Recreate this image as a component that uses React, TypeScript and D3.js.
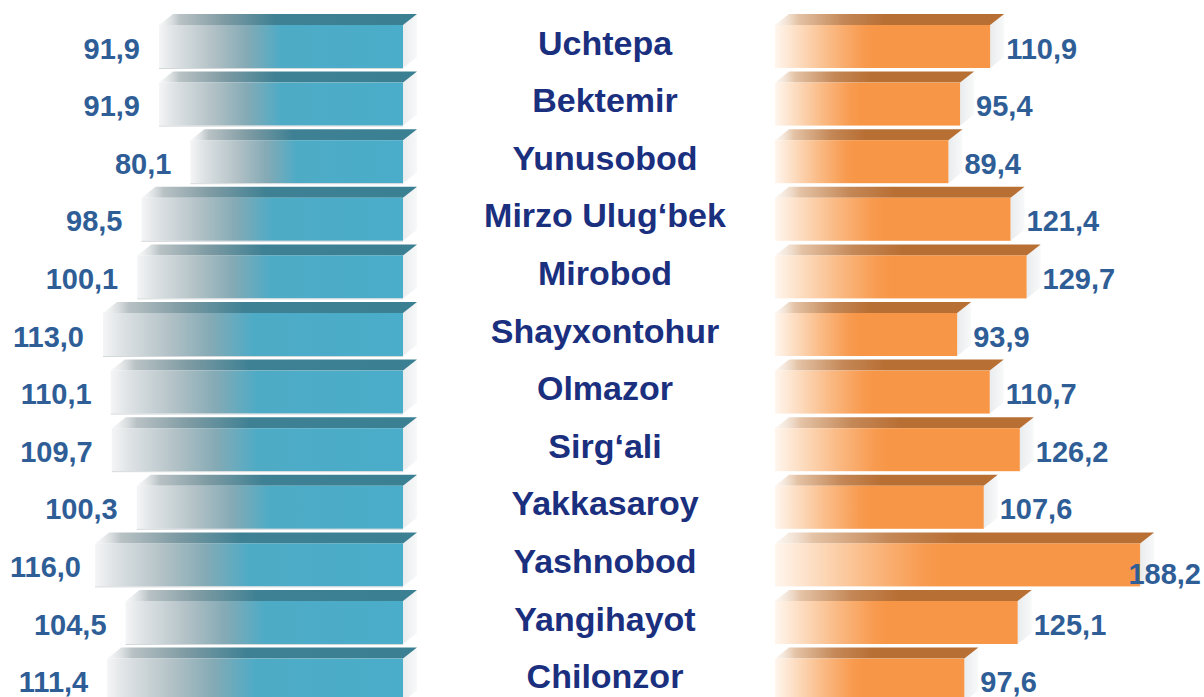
import React, { useEffect, useRef } from "react";
import * as d3 from "d3";

const districts = [
  "Uchtepa", "Bektemir", "Yunusobod", "Mirzo Ulug‘bek", "Mirobod", "Shayxontohur",
  "Olmazor", "Sirg‘ali", "Yakkasaroy", "Yashnobod", "Yangihayot", "Chilonzor",
];
const leftValues = [91.9, 91.9, 80.1, 98.5, 100.1, 113.0, 110.1, 109.7, 100.3, 116.0, 104.5, 111.4];
const rightValues = [110.9, 95.4, 89.4, 121.4, 129.7, 93.9, 110.7, 126.2, 107.6, 188.2, 125.1, 97.6];

const W = 1204;
const H = 697;
const FONT = "'Liberation Sans', Arial, Helvetica, sans-serif";
const fmt = (v: number) => v.toFixed(1).replace(".", ",");

export default function App() {
  const ref = useRef<SVGSVGElement | null>(null);

  useEffect(() => {
    const svg = d3.select(ref.current);
    svg.selectAll("*").remove();

    const defs = svg.append("defs");
    const lin = (id: string, stops: [number, string, number?][]) => {
      const g = defs.append("linearGradient").attr("id", id).attr("x1", 0).attr("x2", 1).attr("y1", 0).attr("y2", 0);
      stops.forEach(([o, c, op]) => g.append("stop").attr("offset", o).attr("stop-color", c).attr("stop-opacity", op ?? 1));
    };
    lin("blueFront", [[0, "#f4f5f6"], [0.06, "#dfe3e5"], [0.22, "#b2c1c6"], [0.36, "#84aab5"], [0.5, "#4eabc6"], [1, "#4aadc9"]]);
    lin("blueTop", [[0, "#e6e8e9", 0.3], [0.08, "#b9c2c5"], [0.25, "#7f9ba3"], [0.45, "#3f8194"], [1, "#3a7f92"]]);
    lin("orangeFront", [[0, "#fff6ee"], [0.08, "#fde3cc"], [0.25, "#fabb86"], [0.4, "#f89c52"], [0.46, "#f79646"], [1, "#f79646"]]);
    lin("orangeTop", [[0, "#f3e4d6", 0.3], [0.1, "#e4c3a6"], [0.3, "#c48756"], [0.48, "#b86f34"], [1, "#b86f34"]]);
    lin("side", [[0, "#e9ecee"], [1, "#f8f9f9"]]);

    const y = d3.scaleBand<string>()
      .domain(districts)
      .range([12.2, 12.2 + 57.6 * 12])
      .paddingInner(0.0625)
      .paddingOuter(0.03125);
    const depthX = 14;
    const depthY = 11;

    const xL = d3.scaleLinear().domain([0, 150]).range([403, 403 - 150 * 2.655]);
    const xR = d3.scaleLinear().domain([0, 200]).range([775, 775 + 200 * 1.94]);

    const gL = svg.append("g");
    const gR = svg.append("g");
    const gT = svg.append("g");

    districts.forEach((d, i) => {
      const bandTop = y(d)!;
      const fy = bandTop + depthY;
      const fh = y.bandwidth() - depthY;
      const cy = fy + fh / 2;

      // Left bar
      const x0 = xL(leftValues[i]);
      const x1 = xL(0);
      gL.append("polygon")
        .attr("points", [[x1, fy], [x1 + depthX, fy - depthY], [x1 + depthX, fy + fh - depthY], [x1, fy + fh]].map(p => p.join(",")).join(" "))
        .attr("fill", "url(#side)");
      gL.append("polygon")
        .attr("points", [[x0, fy], [x0 + depthX, fy - depthY], [x1 + depthX, fy - depthY], [x1, fy]].map(p => p.join(",")).join(" "))
        .attr("fill", "url(#blueTop)");
      gL.append("rect").attr("x", x0).attr("y", fy).attr("width", x1 - x0).attr("height", fh).attr("fill", "url(#blueFront)");
      gL.append("line").attr("x1", x0).attr("x2", x1).attr("y1", fy + fh + 0.5).attr("y2", fy + fh + 0.5)
        .attr("stroke", "#d3d8da").attr("stroke-width", 1);

      const tl = gL.append("text")
        .attr("x", x0 - 19).attr("y", cy + 12)
        .attr("text-anchor", "end")
        .attr("font-family", FONT).attr("font-weight", "bold").attr("font-size", 29)
        .attr("fill", "#2f5e97")
        .text(fmt(leftValues[i]));
      const wl = (tl.node() as SVGTextElement).getComputedTextLength();
      if (x0 - 19 - wl < 10) tl.attr("x", 10 + wl);

      // Right bar
      const r0 = xR(0);
      const r1 = xR(rightValues[i]);
      gR.append("polygon")
        .attr("points", [[r1, fy], [r1 + depthX, fy - depthY], [r1 + depthX, fy + fh - depthY], [r1, fy + fh]].map(p => p.join(",")).join(" "))
        .attr("fill", "url(#side)");
      gR.append("polygon")
        .attr("points", [[r0, fy], [r0 + depthX, fy - depthY], [r1 + depthX, fy - depthY], [r1, fy]].map(p => p.join(",")).join(" "))
        .attr("fill", "url(#orangeTop)");
      gR.append("rect").attr("x", r0).attr("y", fy).attr("width", r1 - r0).attr("height", fh).attr("fill", "url(#orangeFront)");

      const tr = gR.append("text")
        .attr("x", r1 + 16).attr("y", cy + 12)
        .attr("font-family", FONT).attr("font-weight", "bold").attr("font-size", 29)
        .attr("fill", "#2f5e97")
        .text(fmt(rightValues[i]));
      const wr = (tr.node() as SVGTextElement).getComputedTextLength();
      if (r1 + 16 + wr > W - 3) tr.attr("x", W - 3 - wr).attr("y", cy + 19);

      // Category label
      gT.append("text")
        .attr("x", 605).attr("y", cy + 8)
        .attr("text-anchor", "middle")
        .attr("font-family", FONT).attr("font-weight", "bold").attr("font-size", 34)
        .attr("fill", "#1b2f7f")
        .text(d);
    });
  }, []);

  return (
    <svg
      ref={ref}
      width={W}
      height={H}
      viewBox={`0 0 ${W} ${H}`}
      style={{ position: "absolute", left: 0, top: 0, background: "#ffffff" }}
    />
  );
}
